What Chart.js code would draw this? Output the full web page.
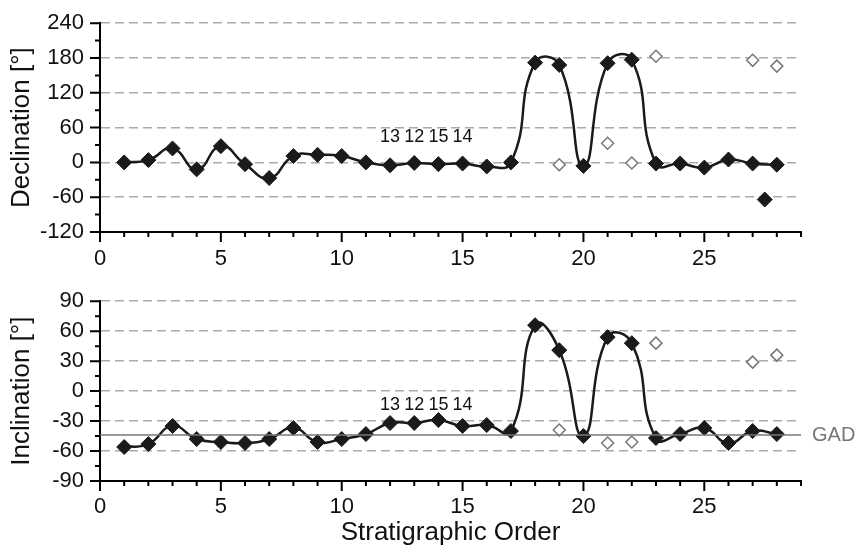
<!DOCTYPE html>
<html>
<head>
<meta charset="utf-8">
<script src="https://cdn.jsdelivr.net/npm/chart.js@4/dist/chart.umd.min.js"></script>
<style>
  body { margin: 0; background: #fff; overflow: hidden; }
  #wrap { position: relative; width: 856px; height: 545px; overflow: hidden; }
  canvas { position: absolute; left: 0; }
</style>
</head>
<body>
<div id="wrap">
  <canvas id="declChart" width="856" height="278" style="top:-6px"></canvas>
  <canvas id="inclChart" width="856" height="274" style="top:272px"></canvas>
</div>
<script>
// stratigraphic order of samples
const order = [1, 2, 3, 4, 5, 6, 7, 8, 9, 10, 11, 12, 13, 14, 15, 16, 17, 18, 19, 20, 21, 22, 23, 24, 25, 26, 27, 28];

// mean directions (filled diamonds, joined by the spline)
const declination = [0, 4, 24, -12, 28, -3, -27, 11, 13, 11, 0, -5, -1, -3, -2, -7, 0, 172, 168, -6, 171, 177, -2, -2, -9, 5, -2, -4];
const inclination = [-56, -53, -35, -48, -51, -52, -48, -37, -51, -48, -43, -32, -32, -29, -35, -34, -40, 66, 41, -45, 54, 48, -47, -43, -37, -52, -40, -43];

// alternative directions (open diamonds)
const altOrder = [19, 21, 22, 23, 27, 28];
const altDeclination = [-4, 33, -1, 183, 176, 166];
const altInclination = [-39, -52, -51, 48, 29, 36];

// single outlier in declination
const outlierOrder = [27.5];
const outlierDeclination = [-64];

// GAD inclination reference
const gadInclination = -44;

// sample labels written above the plateau
const noteOrder = [12, 13, 14, 15];
const noteText = ['13', '12', '15', '14'];

const xTicks = [0, 5, 10, 15, 20, 25];

const FONT = '"Liberation Sans", Arial, sans-serif';

function pts(xs, ys) {
  return xs.map((x, i) => ({x: x, y: ys[i]}));
}

// minor/major ticks, sample notes and GAD label
const extras = {
  id: 'extras',
  afterDraw(chart, args, opts) {
    const {ctx, chartArea, scales: {x, y}} = chart;
    ctx.save();
    ctx.strokeStyle = '#000';
    ctx.lineWidth = 2;
    ctx.beginPath();
    for (let v = x.min; v <= x.max; v++) {
      const px = x.getPixelForValue(v);
      const len = v % 5 === 0 ? 10 : 5;
      ctx.moveTo(px, chartArea.bottom);
      ctx.lineTo(px, chartArea.bottom + len);
    }
    for (let v = y.min; v <= y.max; v += opts.minorStep) {
      const py = y.getPixelForValue(v);
      const len = v % opts.majorStep === 0 ? 10 : 5;
      ctx.moveTo(chartArea.left - len, py);
      ctx.lineTo(chartArea.left, py);
    }
    ctx.stroke();

    ctx.fillStyle = '#111';
    ctx.font = '18px ' + FONT;
    ctx.textAlign = 'center';
    ctx.textBaseline = 'middle';
    noteOrder.forEach((o, i) => {
      ctx.fillText(noteText[i], x.getPixelForValue(o), y.getPixelForValue(opts.noteY));
    });

    if (opts.gad) {
      ctx.fillStyle = '#777';
      ctx.font = '20px ' + FONT;
      ctx.textAlign = 'left';
      ctx.fillText('GAD', chartArea.right + 11, y.getPixelForValue(gadInclination));
    }
    ctx.restore();
  }
};

function makeConfig(yTitle, mainY, altY, yMin, yMax, yMajor, yMinor, extraSets, xTitle, xHeight, xPad, noteY, gad) {
  return {
    type: 'scatter',
    data: {
      datasets: extraSets.concat([
        {
          data: pts(altOrder, altY),
          pointStyle: 'rectRot',
          pointRadius: 6,
          backgroundColor: '#fff',
          borderColor: '#777',
          borderWidth: 1.5,
          showLine: false
        },
        {
          data: pts(order, mainY),
          showLine: true,
          tension: 0.5,
          borderColor: '#1a1a1a',
          borderWidth: 2.5,
          pointStyle: 'rectRot',
          pointRadius: 7.5,
          pointBackgroundColor: '#1a1a1a',
          pointBorderColor: '#1a1a1a',
          pointBorderWidth: 1
        }
      ])
    },
    options: {
      responsive: false,
      animation: false,
      layout: { padding: { top: 23, right: 55, bottom: 0, left: 0 } },
      plugins: {
        legend: { display: false },
        tooltip: { enabled: false },
        extras: { minorStep: yMinor, majorStep: yMajor, noteY: noteY, gad: gad }
      },
      scales: {
        x: {
          type: 'linear',
          min: 0,
          max: 29,
          afterFit: (s) => { s.height = xHeight; },
          afterBuildTicks: (s) => { s.ticks = xTicks.map(v => ({value: v})); },
          grid: { display: false, drawTicks: false },
          border: { color: '#000', width: 2 },
          ticks: { padding: xPad, color: '#111', font: { family: FONT, size: 22 } },
          title: {
            display: !!xTitle,
            text: xTitle,
            color: '#111',
            padding: 0,
            font: { family: FONT, size: 26, lineHeight: 1 }
          }
        },
        y: {
          min: yMin,
          max: yMax,
          afterFit: (s) => { s.width = 100; },
          afterBuildTicks: (s) => {
            const t = [];
            for (let v = yMin; v <= yMax; v += yMajor) t.push({value: v});
            s.ticks = t;
          },
          grid: {
            drawTicks: false,
            lineWidth: 1.5,
            color: (c) => (c.tick && c.tick.value !== yMin) ? '#aaa' : 'rgba(0,0,0,0)'
          },
          border: { color: '#000', width: 2, dash: [9, 5] },
          ticks: { padding: 16, color: '#111', font: { family: FONT, size: 22 } },
          title: {
            display: true,
            text: yTitle,
            color: '#111',
            padding: { top: 9, bottom: 0 },
            font: { family: FONT, size: 26, lineHeight: 1 }
          }
        }
      }
    },
    plugins: [extras]
  };
}

const declChart = new Chart(
  document.getElementById('declChart'),
  makeConfig('Declination [°]', declination, altDeclination, -120, 240, 60, 30,
    [{
      data: pts(outlierOrder, outlierDeclination),
      pointStyle: 'rectRot',
      pointRadius: 7.5,
      backgroundColor: '#1a1a1a',
      borderColor: '#1a1a1a',
      showLine: false
    }],
    '', 40, 14, 44, false)
);

const inclChart = new Chart(
  document.getElementById('inclChart'),
  makeConfig('Inclination [°]', inclination, altInclination, -90, 90, 30, 15,
    [{
      data: [{x: 0, y: gadInclination}, {x: 29, y: gadInclination}],
      showLine: true,
      borderColor: '#777',
      borderWidth: 1.5,
      pointRadius: 0
    }],
    'Stratigraphic Order', 65, 13, -14, true)
);
</script>
</body>
</html>
